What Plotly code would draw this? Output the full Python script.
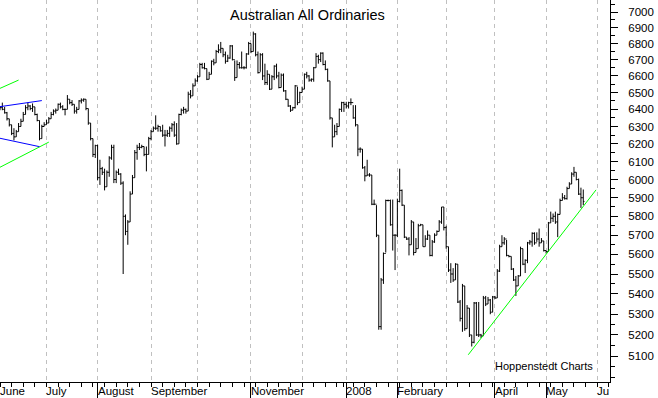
import math
import pandas as pd
import plotly.graph_objects as go

# ---------------- data ----------------
holidays = ["2007-12-25", "2007-12-26", "2008-01-01"]
trading_days = [d.strftime("%Y-%m-%d") for d in pd.bdate_range("2007-06-04", "2008-05-23")
                if d.strftime("%Y-%m-%d") not in holidays]

opens = [
    6415, 6410, 6400, 6380, 6345, 6310, 6260, 6240, 6270, 6300,
    6330, 6370, 6410, 6420, 6405, 6415, 6370, 6335, 6230, 6300,
    6310, 6320, 6345, 6370, 6390, 6395, 6430, 6415, 6400, 6400,
    6460, 6440, 6430, 6390, 6400, 6450, 6455, 6460, 6405, 6320,
    6230, 6140, 6190, 6010, 6060, 6040, 5960, 6040, 6120, 6180,
    6000, 6040, 6030, 5980, 5800, 5720, 5770, 5920, 6010, 6150,
    6180, 6180, 6185, 6140, 6140, 6230, 6270, 6290, 6290, 6300,
    6275, 6250, 6250, 6260, 6290, 6310, 6250, 6200, 6370, 6395,
    6400, 6390, 6490, 6480, 6540, 6570, 6595, 6670, 6650, 6645,
    6580, 6610, 6690, 6680, 6750, 6760, 6770, 6730, 6690, 6710,
    6785, 6700, 6590, 6670, 6650, 6650, 6650, 6735, 6800, 6750,
    6860, 6730, 6620, 6730, 6600, 6560, 6610, 6520, 6595, 6660,
    6600, 6530, 6605, 6510, 6460, 6420, 6395, 6410, 6540, 6440,
    6500, 6520, 6610, 6600, 6575, 6580, 6650, 6720, 6700, 6740,
    6670, 6640, 6570, 6350, 6240, 6270, 6300, 6400, 6440, 6430,
    6420, 6440, 6440, 6350, 6310, 6170, 6170, 6065, 6020, 6025,
    6025, 5865, 5865, 5700, 5240, 5470, 5605, 5885, 5885, 5755,
    5700, 5700, 5880, 5940, 5860, 5690, 5680, 5650, 5770, 5610,
    5630, 5750, 5755, 5640, 5680, 5700, 5595, 5665, 5700, 5720,
    5770, 5850, 5740, 5640, 5520, 5500, 5470, 5550, 5360, 5280,
    5440, 5230, 5330, 5200, 5165, 5355, 5200, 5200, 5195, 5380,
    5350, 5370, 5310, 5385, 5380, 5515, 5640, 5660, 5680, 5595,
    5590, 5525, 5470, 5440, 5490, 5630, 5550, 5570, 5660, 5665,
    5710, 5660, 5680, 5660, 5670, 5620, 5615, 5765, 5790, 5800,
    5770, 5810, 5885, 5900, 5895, 5950, 5975, 6030, 6040, 6000,
    5920, 5900,
]

highs = [
    6420, 6440, 6415, 6385, 6345, 6310, 6290, 6280, 6320, 6345,
    6385, 6425, 6440, 6425, 6435, 6415, 6375, 6335, 6310, 6325,
    6340, 6355, 6385, 6400, 6405, 6435, 6440, 6425, 6405, 6485,
    6460, 6455, 6430, 6415, 6455, 6465, 6465, 6460, 6405, 6320,
    6230, 6195, 6195, 6110, 6070, 6060, 6050, 6130, 6195, 6195,
    6050, 6060, 6035, 5990, 5810, 5780, 5935, 6025, 6165, 6195,
    6205, 6195, 6185, 6185, 6240, 6280, 6300, 6365, 6310, 6300,
    6310, 6280, 6280, 6300, 6320, 6330, 6320, 6375, 6405, 6415,
    6405, 6505, 6515, 6555, 6585, 6605, 6680, 6680, 6680, 6645,
    6625, 6695, 6705, 6760, 6795, 6810, 6770, 6750, 6730, 6790,
    6790, 6695, 6695, 6685, 6750, 6660, 6740, 6810, 6800, 6875,
    6865, 6750, 6740, 6740, 6675, 6635, 6610, 6605, 6665, 6675,
    6625, 6615, 6615, 6515, 6460, 6425, 6415, 6545, 6535, 6505,
    6535, 6615, 6625, 6605, 6585, 6655, 6740, 6730, 6745, 6745,
    6695, 6645, 6570, 6350, 6310, 6320, 6405, 6445, 6445, 6445,
    6445, 6465, 6425, 6425, 6310, 6180, 6170, 6075, 6110, 6035,
    6025, 5890, 5860, 5700, 5480, 5610, 5890, 5890, 5890, 5890,
    5705, 5895, 6060, 5945, 5860, 5690, 5690, 5780, 5770, 5685,
    5760, 5760, 5755, 5700, 5725, 5700, 5675, 5710, 5725, 5780,
    5850, 5850, 5750, 5640, 5555, 5530, 5555, 5550, 5370, 5450,
    5440, 5345, 5330, 5200, 5360, 5360, 5360, 5205, 5390, 5390,
    5385, 5375, 5390, 5390, 5525, 5650, 5700, 5690, 5675, 5595,
    5590, 5530, 5490, 5495, 5640, 5630, 5575, 5665, 5675, 5715,
    5715, 5715, 5735, 5685, 5670, 5620, 5770, 5825, 5815, 5825,
    5815, 5895, 5925, 5915, 5960, 5985, 6040, 6070, 6040, 6005,
    5955, 5945,
]

lows = [
    6395, 6395, 6375, 6335, 6300, 6250, 6220, 6240, 6270, 6300,
    6330, 6370, 6395, 6395, 6385, 6365, 6330, 6220, 6230, 6300,
    6310, 6320, 6345, 6365, 6375, 6395, 6405, 6395, 6365, 6400,
    6430, 6420, 6375, 6375, 6400, 6435, 6445, 6395, 6310, 6220,
    6125, 6120, 5995, 5970, 6025, 5940, 5960, 6015, 6110, 5980,
    5980, 6025, 5970, 5500, 5700, 5650, 5770, 5920, 6010, 6110,
    6165, 6175, 6130, 6045, 6140, 6220, 6270, 6280, 6270, 6270,
    6240, 6185, 6240, 6240, 6270, 6240, 6195, 6200, 6365, 6375,
    6375, 6390, 6465, 6480, 6540, 6565, 6595, 6645, 6640, 6575,
    6580, 6610, 6665, 6680, 6740, 6740, 6715, 6675, 6685, 6705,
    6695, 6570, 6590, 6645, 6645, 6640, 6645, 6730, 6740, 6750,
    6720, 6615, 6625, 6575, 6545, 6545, 6515, 6520, 6575, 6585,
    6525, 6530, 6505, 6455, 6415, 6385, 6395, 6405, 6425, 6440,
    6500, 6520, 6585, 6565, 6565, 6565, 6650, 6675, 6685, 6665,
    6635, 6565, 6340, 6180, 6240, 6250, 6300, 6385, 6385, 6405,
    6405, 6425, 6345, 6300, 6130, 6150, 6060, 5990, 6020, 6015,
    5860, 5860, 5690, 5225, 5225, 5450, 5610, 5880, 5750, 5620,
    5520, 5690, 5875, 5855, 5685, 5675, 5595, 5650, 5595, 5610,
    5630, 5750, 5640, 5640, 5675, 5590, 5590, 5660, 5700, 5720,
    5760, 5725, 5630, 5510, 5455, 5460, 5470, 5355, 5265, 5215,
    5220, 5230, 5190, 5145, 5160, 5195, 5190, 5185, 5195, 5340,
    5350, 5300, 5310, 5375, 5380, 5510, 5640, 5650, 5590, 5585,
    5520, 5465, 5390, 5440, 5490, 5545, 5505, 5555, 5650, 5640,
    5650, 5665, 5640, 5660, 5615, 5605, 5615, 5765, 5770, 5760,
    5690, 5810, 5885, 5890, 5890, 5950, 5975, 6015, 5995, 5915,
    5845, 5860,
]

closes = [
    6410, 6400, 6380, 6345, 6310, 6260, 6240, 6270, 6300, 6330,
    6370, 6410, 6420, 6405, 6415, 6370, 6335, 6230, 6300, 6310,
    6320, 6345, 6370, 6390, 6395, 6430, 6415, 6400, 6400, 6460,
    6440, 6430, 6390, 6400, 6450, 6455, 6460, 6405, 6320, 6230,
    6140, 6190, 6010, 6060, 6040, 5960, 6040, 6120, 6180, 6000,
    6040, 6030, 5980, 5800, 5720, 5770, 5920, 6010, 6150, 6180,
    6180, 6185, 6140, 6140, 6230, 6270, 6290, 6290, 6300, 6275,
    6250, 6250, 6260, 6290, 6310, 6250, 6200, 6370, 6395, 6400,
    6390, 6490, 6480, 6540, 6570, 6595, 6670, 6650, 6645, 6580,
    6610, 6690, 6680, 6750, 6760, 6770, 6730, 6690, 6710, 6785,
    6700, 6590, 6670, 6650, 6650, 6650, 6735, 6800, 6750, 6860,
    6730, 6620, 6730, 6600, 6560, 6610, 6520, 6595, 6660, 6600,
    6530, 6605, 6510, 6460, 6420, 6395, 6410, 6540, 6440, 6500,
    6520, 6610, 6600, 6575, 6580, 6650, 6720, 6700, 6740, 6670,
    6640, 6570, 6350, 6240, 6270, 6300, 6400, 6440, 6430, 6420,
    6440, 6440, 6350, 6310, 6170, 6170, 6065, 6020, 6025, 6025,
    5865, 5865, 5700, 5240, 5470, 5605, 5885, 5885, 5755, 5700,
    5700, 5880, 5940, 5860, 5690, 5680, 5650, 5770, 5610, 5630,
    5750, 5755, 5640, 5680, 5700, 5595, 5665, 5700, 5720, 5770,
    5850, 5740, 5640, 5520, 5500, 5470, 5550, 5360, 5280, 5440,
    5230, 5330, 5200, 5165, 5355, 5200, 5200, 5195, 5380, 5350,
    5370, 5310, 5385, 5380, 5515, 5640, 5660, 5680, 5595, 5590,
    5525, 5470, 5440, 5490, 5630, 5550, 5570, 5660, 5665, 5710,
    5660, 5680, 5660, 5670, 5620, 5615, 5765, 5790, 5800, 5770,
    5810, 5885, 5900, 5895, 5950, 5975, 6030, 6040, 6000, 5920,
    5900, 5880,
]

# trend lines (date, index level)
green_upper_x = ["2007-06-04", "2007-06-14"]
green_upper_y = [6525, 6575]
green_lower_x = ["2007-06-04", "2007-07-03"]
green_lower_y = [6068, 6210]
blue_upper_x = ["2007-06-04", "2007-06-28"]
blue_upper_y = [6416, 6452]
blue_lower_x = ["2007-06-04", "2007-06-27"]
blue_lower_y = [6232, 6184]
green_support_x = ["2008-03-14 12:00", "2008-05-30 12:00"]
green_support_y = [5106, 5943]

# axis ticks / labels
month_ticks = ["2007-07-02", "2007-08-01", "2007-09-03", "2007-10-01", "2007-11-01",
               "2007-12-03", "2008-01-02", "2008-02-01", "2008-03-03", "2008-04-01",
               "2008-05-01", "2008-06-02"]
month_label_dates = ["2007-06-04", "2007-07-02", "2007-08-01", "2007-09-03", "2007-11-01",
                     "2008-01-02", "2008-02-01", "2008-04-01", "2008-05-01", "2008-06-02"]
month_labels = ["June", "July", "August", "September", "November",
                "2008", "February", "April", "May", "Ju"]
week_ticks = [d.strftime("%Y-%m-%d") for d in pd.date_range("2007-06-04", "2008-06-09", freq="W-MON")]
y_tick_values = list(range(5100, 7001, 100))
y_tick_text = [str(v) for v in y_tick_values]
y_minor_values = list(range(5000, 7051, 50))

title_text = "Australian All Ordinaries"
credit_text = "Hoppenstedt Charts"

FONT = "Liberation Sans, Arial, sans-serif"

# ---------------- figure ----------------
fig = go.Figure()

for xs, ys, col in [
    (green_upper_x, green_upper_y, "#00ff00"),
    (green_lower_x, green_lower_y, "#00ff00"),
    (blue_upper_x, blue_upper_y, "#0000ff"),
    (blue_lower_x, blue_lower_y, "#0000ff"),
    (green_support_x, green_support_y, "#00ff00"),
]:
    fig.add_trace(go.Scatter(x=xs, y=ys, mode="lines",
                             line=dict(color=col, width=1), hoverinfo="skip"))

fig.add_trace(go.Ohlc(
    x=trading_days, open=opens, high=highs, low=lows, close=closes,
    increasing=dict(line=dict(color="black", width=1)),
    decreasing=dict(line=dict(color="black", width=1)),
    tickwidth=0.5, hoverinfo="skip",
))

annotations = [
    dict(text=title_text, x=0.504, y=0.9607, xref="paper", yref="paper",
         xanchor="center", yanchor="middle", showarrow=False,
         font=dict(family=FONT, size=14.5, color="black")),
    dict(text=credit_text, x=0.9754, y=0.0419, xref="paper", yref="paper",
         xanchor="right", yanchor="middle", showarrow=False,
         font=dict(family=FONT, size=11, color="black")),
]
for d, lab in zip(month_label_dates, month_labels):
    annotations.append(dict(text=lab, x=d, xref="x", y=0, yref="paper",
                            xanchor="left", yanchor="top", xshift=-2, yshift=-1,
                            showarrow=False,
                            font=dict(family=FONT, size=11.5, color="black")))

fig.update_layout(
    width=658, height=398,
    margin=dict(l=0, r=48, t=0, b=16),
    paper_bgcolor="white", plot_bgcolor="white",
    showlegend=False,
    font=dict(family=FONT, size=11.5, color="black"),
    annotations=annotations,
    xaxis=dict(
        type="date",
        range=["2007-06-04", "2008-06-09 12:00"],
        rangebreaks=[dict(bounds=["sat", "mon"]), dict(values=holidays)],
        rangeslider=dict(visible=False),
        tickmode="array", tickvals=month_ticks, ticktext=[""] * len(month_ticks),
        ticks="outside", ticklen=16, tickcolor="black", tickwidth=1,
        showgrid=True, gridcolor="#c0c0c0", griddash="4px,4px", gridwidth=1,
        showline=True, linecolor="black", linewidth=1, zeroline=False,
        minor=dict(tickmode="array", tickvals=week_ticks, ticks="outside",
                   ticklen=4, tickcolor="black", tickwidth=1, showgrid=False),
        fixedrange=True,
    ),
    yaxis=dict(
        type="log", side="right",
        range=[math.log10(4979.5), math.log10(7078)],
        tickmode="array", tickvals=y_tick_values, ticktext=y_tick_text,
        ticks="outside", ticklen=7, tickcolor="black", tickwidth=1,
        ticklabelstandoff=8,
        tickfont=dict(family=FONT, size=11.5, color="black"),
        showline=True, linecolor="black", linewidth=1,
        showgrid=False, zeroline=False,
        minor=dict(tickmode="array", tickvals=y_minor_values, ticks="outside",
                   ticklen=4, tickcolor="black", tickwidth=1, showgrid=False),
        fixedrange=True,
    ),
)

fig.write_html(
    "out.html",
    config={"displayModeBar": False, "staticPlot": True},
    post_script="document.body.style.margin='0px'; document.body.style.overflow='hidden';",
)
